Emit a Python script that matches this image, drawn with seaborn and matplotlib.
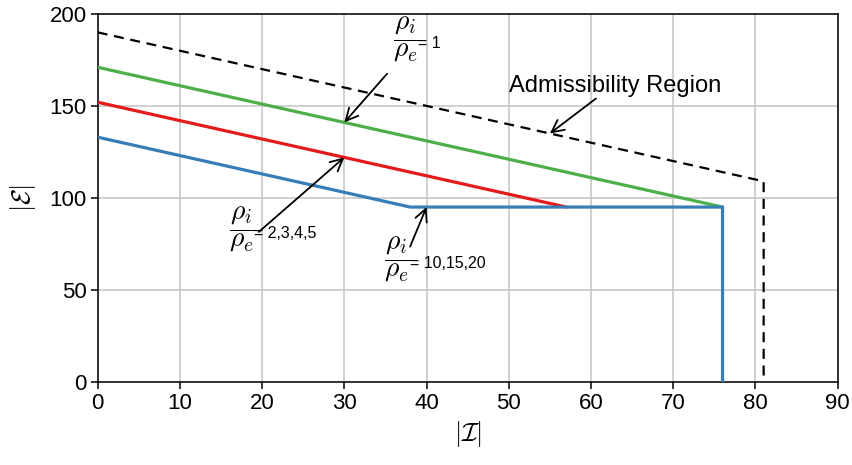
import matplotlib
matplotlib.use("Agg")
import matplotlib.pyplot as plt
import seaborn as sns
import pandas as pd

# Boundary curves of the admissible (|I|, |E|) region
admiss_x = [0, 81, 81]
admiss_y = [190, 109, 0]
ratio1_x = [0, 76]
ratio1_y = [171, 95]
ratio2_x = [0, 57]
ratio2_y = [152, 95]
ratio10_x = [0, 38, 76, 76]
ratio10_y = [133, 95, 95, 0]

x_ticks = [0, 10, 20, 30, 40, 50, 60, 70, 80, 90]
y_ticks = [0, 50, 100, 150, 200]

sns.set_style("white")
plt.rcParams["font.family"] = ["Liberation Sans", "DejaVu Sans"]
plt.rcParams["mathtext.fontset"] = "cm"
plt.rcParams["text.color"] = "black"
plt.rcParams["axes.labelcolor"] = "black"

pal = sns.color_palette("Set1")
red, blue, green = pal[0], pal[1], pal[2]

fig = plt.figure(figsize=(8.53, 4.65), dpi=100)
ax = fig.add_axes([0.1145, 0.179, 0.8675, 0.791])

def draw(xs, ys, **kw):
    df = pd.DataFrame({"x": xs, "y": ys})
    sns.lineplot(data=df, x="x", y="y", sort=False, estimator=None, ax=ax, **kw)

draw(admiss_x, admiss_y, color="black", linewidth=1.6, linestyle=(0, (4.5, 3)), zorder=3)
draw(ratio1_x, ratio1_y, color=green, linewidth=2.3, zorder=4)
draw(ratio2_x, ratio2_y, color=red, linewidth=2.3, zorder=4)
draw(ratio10_x, ratio10_y, color=blue, linewidth=2.3, zorder=5)

ax.set_xlim(0, 90)
ax.set_ylim(0, 200)
ax.set_xticks(x_ticks)
ax.set_yticks(y_ticks)
ax.grid(True, color="#c4c4c4", linewidth=1.1, zorder=0)
ax.set_axisbelow(True)
for s in ax.spines.values():
    s.set_color("black")
    s.set_linewidth(1.1)
ax.tick_params(direction="out", length=5, width=1.1, labelsize=16, colors="black",
               bottom=True, left=True, top=False, right=False, pad=3)

ax.set_xlabel(r"$|\mathcal{I}|$", fontsize=19, labelpad=4)
ax.set_ylabel(r"$|\mathcal{E}|$", fontsize=19, labelpad=8)

frac = r"$\dfrac{\rho_i}{\rho_e}$"
arrow = dict(arrowstyle="->", color="black", lw=1.3, mutation_scale=22,
             shrinkA=0, shrinkB=0)

def ratio_label(x, y, value):
    # fraction bar centred on (x, y), the "= value" part starting at its right edge
    ax.annotate(frac, xy=(x, y), xytext=(0, 2.6), textcoords="offset points",
                fontsize=20, ha="center", va="center")
    ax.annotate("= " + value, xy=(x, y), xytext=(8.6, -0.3), textcoords="offset points",
                fontsize=11.5, ha="left", va="center")

# rho_i / rho_e = 1
ax.annotate("", xy=(30, 141), xytext=(35.2, 167.5), arrowprops=arrow, zorder=6)
ratio_label(37.55, 184.0, "1")

# Admissibility region
ax.annotate("", xy=(55, 135), xytext=(60.6, 154), arrowprops=arrow, zorder=6)
ax.text(62.9, 161, "Admissibility Region", fontsize=17, ha="center", va="center")

# rho_i / rho_e = 2,3,4,5
ax.annotate("", xy=(30, 122), xytext=(19.6, 81.5), arrowprops=arrow, zorder=6)
ratio_label(17.6, 80.7, "2,3,4,5")

# rho_i / rho_e = 10,15,20
ax.annotate("", xy=(40, 95), xytext=(38.0, 73.5), arrowprops=arrow, zorder=6)
ratio_label(36.5, 64.4, "10,15,20")

fig.savefig("out.png", dpi=100)
